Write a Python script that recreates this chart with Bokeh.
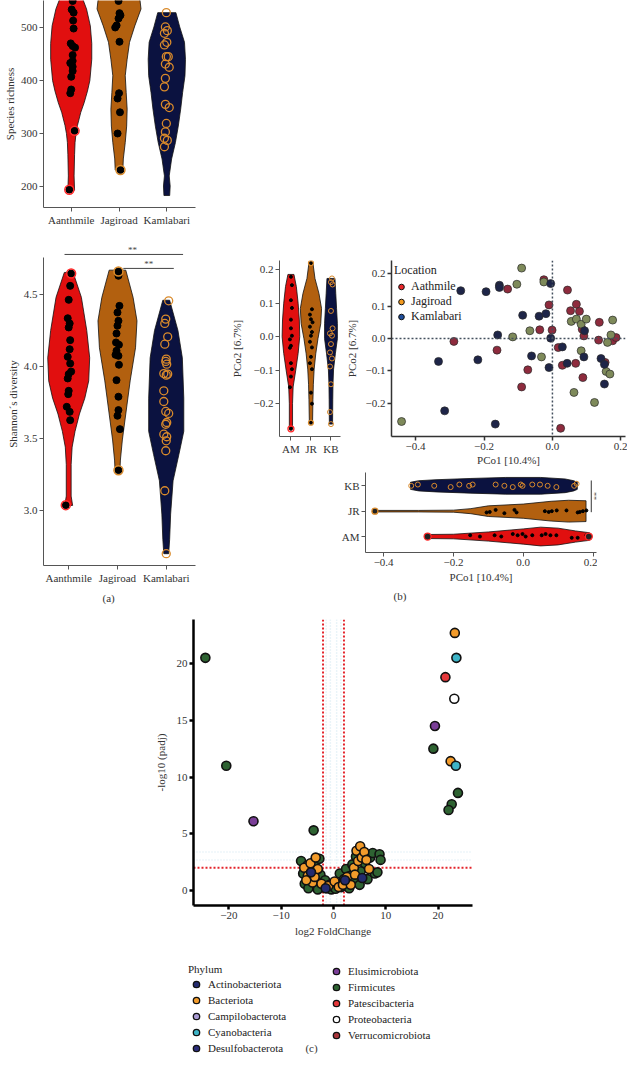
import math
from bokeh.plotting import figure
from bokeh.layouts import row, column
from bokeh.models import Range1d, FixedTicker, Span, Legend, LegendItem, Spacer, Title
from bokeh.embed import file_html
from bokeh.resources import INLINE
from bokeh.core.properties import value

FONT = "Liberation Serif"
TXT = "#333333"
RED = "#E10F0F"
BROWN = "#B2600F"
NAVY = "#0B1240"
RING_OR = "#D98A2B"
RING_RED = "#FF2A2A"
NAN = float("nan")

# ---------------- data ----------------
groups = ["Aanthmile", "Jagiroad", "Kamlabari"]
short_groups = ["AM", "JR", "KB"]

rich_ticks = [200, 300, 400, 500]
shan_ticks = [3.0, 3.5, 4.0, 4.5]
shan_tick_labels = ["3.0", "3.5", "4.0", "4.5"]
pco2_ticks = [-0.2, -0.1, 0.0, 0.1, 0.2]
pco2_tick_labels = ["\u22120.2", "\u22120.1", "0.0", "0.1", "0.2"]
pco1_ticks = [-0.4, -0.2, 0.0, 0.2]
pco1_tick_labels = ["\u22120.4", "\u22120.2", "0.0", "0.2"]
vol_x_ticks = [-20, -10, 0, 10, 20]
vol_x_tick_labels = ["\u221220", "\u221210", "0", "10", "20"]
vol_y_ticks = [0, 5, 10, 15, 20]

# species richness
rich_am = [550, 534, 528, 513, 498, 470, 465, 462, 448, 437, 433, 426, 418, 407, 383, 376, 305, 194]
rich_am_jit = [0.03, 0.01, 0.05, 0.04, 0.05, -0.01, 0.03, 0.08, 0.03, 0.03, -0.02, 0.03, 0.03, 0.0, 0.0, -0.02, 0.07, -0.04]
rich_jr = [565, 550, 527, 523, 517, 504, 500, 473, 376, 366, 340, 300, 231]
rich_jr_jit = [0.0, -0.01, 0.01, 0.03, -0.01, -0.05, -0.08, 0.01, 0.0, -0.03, 0.02, -0.03, 0.03]
rich_kb = [528, 501, 494, 489, 472, 467, 445, 445, 431, 425, 404, 388, 355, 349, 319, 303, 291, 287, 275]
rich_kb_jit = [-0.01, -0.03, 0.01, -0.05, 0.0, -0.05, 0.03, -0.01, -0.03, 0.05, -0.03, -0.05, -0.03, 0.05, -0.01, -0.03, -0.05, 0.01, -0.05]
rich_am_out = [305, 194]
rich_jr_out = [231]

rich_am_lv = [193, 220, 260, 283, 300, 315, 340, 358, 380, 400, 440, 470, 503, 535, 566, 590]
rich_am_w = [0.07, 0.06, 0.07, 0.08, 0.10, 0.13, 0.20, 0.27, 0.34, 0.39, 0.43, 0.43, 0.40, 0.32, 0.19, 0.12]
rich_jr_lv = [231, 252, 283, 314, 346, 377, 409, 440, 472, 503, 535, 566, 590]
rich_jr_w = [0.08, 0.09, 0.13, 0.16, 0.17, 0.15, 0.13, 0.17, 0.22, 0.33, 0.46, 0.42, 0.30]
rich_kb_lv = [183, 201, 220, 252, 283, 314, 346, 377, 409, 440, 472, 501, 528]
rich_kb_w = [0.06, 0.07, 0.05, 0.10, 0.18, 0.24, 0.29, 0.33, 0.38, 0.39, 0.37, 0.27, 0.19]

# Shannon diversity
shan_am = [4.646, 4.560, 4.463, 4.335, 4.299, 4.271, 4.183, 4.120, 4.067, 4.021, 3.965, 3.947, 3.917, 3.831, 3.808, 3.720, 3.685, 3.627, 3.037]
shan_am_jit = [0.05, 0.03, 0.0, -0.02, 0.02, 0.0, 0.03, 0.02, -0.02, 0.03, 0.05, 0.0, -0.02, 0.0, -0.01, -0.04, 0.02, 0.03, -0.06]
shan_jr = [4.660, 4.630, 4.421, 4.375, 4.317, 4.283, 4.229, 4.167, 4.151, 4.109, 4.081, 4.074, 4.012, 3.905, 3.790, 3.697, 3.658, 3.565, 3.280]
shan_jr_jit = [0.02, 0.02, 0.04, 0.0, 0.02, 0.0, -0.02, -0.03, 0.03, -0.02, -0.04, 0.02, 0.03, -0.02, 0.02, 0.02, 0.0, 0.05, 0.02]
shan_kb = [4.456, 4.329, 4.299, 4.206, 4.155, 4.051, 4.035, 4.016, 3.951, 3.947, 3.940, 3.831, 3.757, 3.688, 3.674, 3.611, 3.599, 3.530, 3.512, 3.484, 3.415, 3.137, 2.700]
shan_kb_jit = [0.05, -0.01, -0.03, 0.03, -0.03, 0.0, -0.01, 0.01, -0.05, 0.03, 0.0, -0.05, -0.05, -0.01, 0.05, 0.01, -0.01, -0.05, 0.01, 0.0, -0.01, -0.03, 0.0]
shan_am_out = [4.646, 3.037]
shan_jr_out = [4.660, 3.280]

shan_am_lv = [3.035, 3.10, 3.32, 3.44, 3.55, 3.67, 3.78, 3.90, 4.06, 4.25, 4.48, 4.653]
shan_am_w = [0.08, 0.05, 0.05, 0.07, 0.13, 0.22, 0.33, 0.41, 0.43, 0.37, 0.26, 0.09]
shan_jr_lv = [3.28, 3.35, 3.49, 3.67, 3.90, 4.13, 4.317, 4.48, 4.669]
shan_jr_w = [0.05, 0.06, 0.10, 0.17, 0.26, 0.37, 0.40, 0.32, 0.17]
shan_kb_lv = [2.70, 2.80, 2.975, 3.206, 3.39, 3.55, 3.78, 4.06, 4.25, 4.46]
shan_kb_w = [0.05, 0.07, 0.09, 0.14, 0.26, 0.36, 0.36, 0.33, 0.24, 0.07]

# PCo2 per location
pco2_am = [0.179, 0.154, 0.109, 0.086, 0.051, 0.025, 0.003, -0.008, -0.027, -0.033, -0.079, -0.097, -0.119, -0.151, -0.275]
pco2_am_jit = [0.0, 0.05, 0.0, 0.05, 0.0, 0.0, 0.05, -0.05, 0.0, -0.05, 0.0, 0.05, 0.0, -0.05, 0.0]
pco2_jr = [0.220, 0.082, 0.066, 0.052, 0.043, 0.030, 0.014, 0.003, -0.015, -0.032, -0.060, -0.079, -0.097, -0.167, -0.200, -0.257]
pco2_jr_jit = [0.0, 0.05, -0.05, 0.0, 0.08, -0.05, 0.05, 0.0, -0.05, 0.05, 0.0, -0.05, 0.05, 0.0, 0.05, 0.0]
pco2_kb = [0.174, 0.163, 0.156, 0.077, 0.025, 0.010, 0.003, -0.022, -0.047, -0.065, -0.089, -0.142, -0.225, -0.261]
pco2_kb_jit = [0.05, 0.0, 0.08, 0.0, 0.08, -0.05, 0.05, 0.0, -0.05, 0.05, -0.05, 0.0, -0.05, 0.0]

pco2_am_lv = [-0.275, -0.2, -0.15, -0.1, -0.05, 0.0, 0.05, 0.1, 0.15, 0.186]
pco2_am_w = [0.08, 0.08, 0.11, 0.24, 0.36, 0.44, 0.42, 0.36, 0.27, 0.15]
pco2_jr_lv = [-0.257, -0.187, -0.142, -0.097, -0.051, -0.006, 0.039, 0.084, 0.129, 0.174, 0.22]
pco2_jr_w = [0.08, 0.10, 0.12, 0.16, 0.24, 0.35, 0.49, 0.53, 0.40, 0.20, 0.10]
pco2_kb_lv = [-0.261, -0.187, -0.142, -0.097, -0.051, -0.006, 0.039, 0.084, 0.129, 0.174]
pco2_kb_w = [0.08, 0.09, 0.10, 0.13, 0.22, 0.32, 0.32, 0.28, 0.24, 0.20]

# PCo1 per location
pco1_kb = [-0.321, -0.302, -0.255, -0.208, -0.183, -0.155, -0.145, -0.079, -0.054, -0.030, -0.007, -0.002, 0.026, 0.048, 0.070, 0.095, 0.146, 0.153]
pco1_kb_jit = [0.0, 0.05, 0.0, -0.05, 0.05, 0.0, 0.05, 0.05, 0.0, -0.05, 0.05, 0.0, 0.05, 0.05, 0.0, -0.05, 0.0, 0.08]
pco1_jr = [-0.425, -0.105, -0.096, -0.079, -0.054, -0.025, -0.019, 0.062, 0.073, 0.082, 0.096, 0.124, 0.156, 0.162, 0.171, 0.181]
pco1_jr_jit = [0.0, -0.05, -0.03, 0.05, -0.08, 0.05, -0.05, 0.0, -0.03, 0.0, 0.03, 0.03, -0.05, -0.03, 0.0, 0.03]
pco1_am = [-0.274, -0.152, -0.124, -0.082, -0.063, -0.030, -0.016, -0.002, 0.007, 0.026, 0.053, 0.064, 0.078, 0.095, 0.139, 0.156, 0.181, 0.188]
pco1_am_jit = [0.0, 0.05, 0.0, 0.05, 0.0, 0.1, 0.05, 0.1, 0.0, 0.05, 0.05, 0.1, 0.05, 0.05, -0.05, -0.05, 0.05, 0.0]

pco1_kb_lv = [-0.323, -0.30, -0.25, -0.15, -0.05, 0.05, 0.12, 0.145, 0.155]
pco1_kb_w = [0.14, 0.20, 0.24, 0.29, 0.33, 0.33, 0.27, 0.20, 0.14]
pco1_jr_lv = [-0.425, -0.3, -0.2, -0.15, -0.1, 0.0, 0.08, 0.13, 0.18]
pco1_jr_w = [0.03, 0.03, 0.04, 0.10, 0.21, 0.28, 0.39, 0.43, 0.41]
pco1_am_lv = [-0.274, -0.2, -0.1, 0.0, 0.05, 0.1, 0.15, 0.19]
pco1_am_w = [0.08, 0.09, 0.18, 0.30, 0.37, 0.33, 0.22, 0.15]

# PCoA scatter
pcoa_kb_x = [-0.268, -0.194, -0.155, -0.155, -0.087, -0.160, -0.039, -0.019, -0.005, -0.005, -0.333, -0.218, -0.061, -0.010, 0.029, 0.043, 0.094, 0.092, 0.142, 0.152, 0.152, -0.315, -0.167]
pcoa_kb_y = [0.148, 0.145, 0.165, 0.158, 0.072, 0.011, 0.069, 0.077, 0.170, 0.001, -0.071, -0.066, -0.054, -0.090, -0.026, -0.077, 0.024, -0.057, -0.062, -0.080, -0.141, -0.224, -0.265]
pcoa_am_x = [-0.288, -0.162, -0.131, -0.037, -0.001, -0.010, -0.025, 0.044, 0.053, 0.070, 0.079, 0.087, 0.092, 0.017, 0.029, 0.068, 0.089, -0.090, -0.072, 0.024, 0.137, 0.135, 0.176, 0.186, 0.154]
pcoa_am_y = [-0.009, -0.036, 0.153, 0.027, 0.026, 0.104, 0.182, 0.150, 0.086, 0.106, 0.084, 0.029, 0.008, -0.028, -0.083, -0.077, -0.121, -0.150, -0.097, -0.278, 0.050, -0.005, -0.007, 0.003, -0.074]
pcoa_jr_x = [-0.090, -0.104, -0.025, -0.066, -0.116, -0.032, 0.055, 0.070, 0.084, 0.099, 0.084, 0.063, 0.123, 0.157, 0.168, 0.161, 0.171, 0.176, -0.441]
pcoa_jr_y = [0.218, 0.168, 0.175, 0.024, 0.005, -0.057, 0.053, 0.060, 0.044, 0.060, -0.038, -0.167, -0.198, -0.102, -0.110, -0.012, 0.011, 0.057, -0.257]
location_labels = ["Aathmile", "Jagiroad", "Kamlabari"]
location_colors = ["#E8262A", "#F39A1E", "#1F4E9A"]

# volcano
phyla = ["Actinobacteriota", "Bacteriota", "Campilobacterota", "Cyanobacteria", "Desulfobacterota",
         "Elusimicrobiota", "Firmicutes", "Patescibacteria", "Proteobacteria", "Verrucomicrobiota"]
phyla_colors = ["#232B6E", "#F29B2B", "#A99BD3", "#3DB4C7", "#2B2D78",
                "#7A3E97", "#2E6332", "#E5383B", "#FFFFFF", "#A8353A"]
vol_lfc = [-24.5, -20.5, -15.3, -3.8, 23.2, 23.5, 21.4, 23.1, 19.4, 19.1, 22.4, 23.4, 23.8, 22.6, 22.0,
           -6.2, -5.8, -5.5, -5.0, -4.6, -4.2, -3.8, -3.5, -3.2, -2.7, -2.5, -2.0, -1.6, -1.2, -0.8, -0.4,
           0.0, 0.4, 0.8, 1.2, 1.5, 2.0, 2.4, 2.8, 3.2, 3.6, 4.0, 4.3, 4.8, 5.2, 5.6, 6.0, 6.5, 7.0, 7.5,
           7.9, 8.4, 8.8, 9.0, -4.8, -3.0, 3.0, 5.0,
           -5.6, -4.9, -4.4, -4.0, -3.6, -3.0, -2.3, -1.0, 0.2, 1.0, 1.8, 2.6, 3.3, 3.9, 4.4, 4.7, 5.1,
           5.4, 5.9, 6.3, 6.8, 4.1, -5.2, -3.4,
           -4.3, -1.5, 2.2, 5.5]
vol_nlp = [20.5, 11.0, 6.1, 5.3, 22.7, 20.5, 18.8, 16.9, 14.5, 12.5, 11.4, 11.0, 8.6, 7.6, 7.1,
           2.6, 1.5, 0.6, 2.2, 1.0, 0.4, 1.8, 2.5, 0.8, 2.8, 1.4, 0.3, 0.9, 0.2, 0.5, 0.1,
           0.3, 0.15, 0.6, 1.5, 0.3, 1.0, 1.9, 0.6, 1.3, 2.3, 0.9, 3.0, 3.6, 1.7, 3.2, 2.4, 1.0, 2.9, 3.3,
           1.5, 1.6, 3.2, 2.7, 0.2, 0.1, 0.2, 0.5,
           2.0, 1.3, 2.4, 0.7, 1.2, 1.9, 0.6, 0.4, 0.8, 0.3, 0.5, 1.2, 0.5, 2.0, 3.5, 2.6, 3.9,
           2.9, 3.4, 2.7, 1.9, 1.4, 0.9, 2.9,
           1.6, 0.2, 0.9, 1.1]
vol_phylum = (["Firmicutes", "Firmicutes", "Elusimicrobiota", "Firmicutes", "Bacteriota", "Cyanobacteria",
               "Patescibacteria", "Proteobacteria", "Elusimicrobiota", "Firmicutes", "Bacteriota",
               "Cyanobacteria", "Firmicutes", "Firmicutes", "Firmicutes"]
              + ["Firmicutes"] * 43 + ["Bacteriota"] * 24 + ["Actinobacteriota"] * 4)

# ---------------- helpers ----------------
def style(p, axis_color="#555555", lw=1):
    p.xgrid.visible = False
    p.ygrid.visible = False
    p.outline_line_color = None
    for ax in p.axis:
        ax.major_label_text_font = FONT
        ax.major_label_text_font_size = "11px"
        ax.major_label_text_color = TXT
        ax.axis_label_text_font = FONT
        ax.axis_label_text_font_size = "11px"
        ax.axis_label_text_font_style = "normal"
        ax.axis_label_text_color = TXT
        ax.axis_line_color = axis_color
        ax.axis_line_width = lw
        ax.major_tick_line_color = axis_color
        ax.major_tick_line_width = lw
        ax.minor_tick_line_color = None
        ax.major_tick_out = 4
        ax.major_tick_in = 0
        ax.major_label_standoff = 2
        ax.axis_label_standoff = 2


def violin(p, center, levels, widths, color, horizontal=False):
    lo = [center - w for w in widths]
    hi = [center + w for w in widths]
    a = lo + hi[::-1]
    b = list(levels) + list(levels)[::-1]
    if horizontal:
        p.patch(b, a, fill_color=color, line_color="#111111", line_width=0.8)
    else:
        p.patch(a, b, fill_color=color, line_color="#111111", line_width=0.8)


def fig(w, h, xr, yr, l, r, t, b):
    p = figure(width=w, height=h, x_range=Range1d(*xr), y_range=Range1d(*yr),
               min_border_left=l, min_border_right=r, min_border_top=t, min_border_bottom=b,
               output_backend="svg", toolbar_location=None)
    return p


def bare(p):
    p.axis.visible = False
    p.xgrid.visible = False
    p.ygrid.visible = False
    p.outline_line_color = None


def panel_title(p, text, offset, standoff):
    p.add_layout(Title(text=text, align="left", offset=offset, standoff=standoff,
                       text_font=FONT, text_font_size="11px", text_font_style="normal",
                       text_color=TXT), "below")

# ---------------- (a) top: species richness ----------------
pA1 = fig(227, 237, (-0.58, 2.6), (160.4, 550.9), 36, 32, 0, 30)
violin(pA1, 0, rich_am_lv, rich_am_w, RED)
violin(pA1, 1, rich_jr_lv, rich_jr_w, BROWN)
violin(pA1, 2, rich_kb_lv, rich_kb_w, NAVY)
pA1.scatter([0 + j for j in rich_am_jit], rich_am, size=7, fill_color="black", line_color="black")
pA1.scatter([1 + j for j in rich_jr_jit], rich_jr, size=7, fill_color="black", line_color="black")
pA1.scatter([2 + j for j in rich_kb_jit], rich_kb, size=8, fill_color=None, line_color=RING_OR, line_width=1.3)
pA1.scatter([0 + rich_am_jit[rich_am.index(v)] for v in rich_am_out], rich_am_out, size=9, fill_color=None, line_color=RING_RED, line_width=1.5)
pA1.scatter([1 + rich_jr_jit[rich_jr.index(v)] for v in rich_jr_out], rich_jr_out, size=9, fill_color=None, line_color=RING_OR, line_width=1.5)
style(pA1)
pA1.xaxis.ticker = FixedTicker(ticks=[0, 1, 2])
pA1.xaxis.major_label_overrides = {i: g for i, g in enumerate(groups)}
pA1.yaxis.ticker = FixedTicker(ticks=rich_ticks)
pA1.yaxis.axis_label = "Species richness"

# ---------------- (a) bottom: Shannon ----------------
pA2 = fig(227, 377, (-0.517, 2.6), (2.618, 4.861), 36, 10, 5, 49)
violin(pA2, 0, shan_am_lv, shan_am_w, RED)
violin(pA2, 1, shan_jr_lv, shan_jr_w, BROWN)
violin(pA2, 2, shan_kb_lv, shan_kb_w, NAVY)
pA2.scatter([0 + j for j in shan_am_jit], shan_am, size=7, fill_color="black", line_color="black")
pA2.scatter([1 + j for j in shan_jr_jit], shan_jr, size=7, fill_color="black", line_color="black")
pA2.scatter([2 + j for j in shan_kb_jit], shan_kb, size=8, fill_color=None, line_color=RING_OR, line_width=1.3)
pA2.scatter([0 + shan_am_jit[shan_am.index(v)] for v in shan_am_out], shan_am_out, size=9, fill_color=None, line_color=RING_RED, line_width=1.5)
pA2.scatter([1 + shan_jr_jit[shan_jr.index(v)] for v in shan_jr_out], shan_jr_out, size=9, fill_color=None, line_color=RING_OR, line_width=1.5)
pA2.line([-0.086, 2.345], [4.778, 4.778], line_color="#444444", line_width=1)
pA2.line([1.12, 2.155], [4.681, 4.681], line_color="#444444", line_width=1)
pA2.text([1.31, 1.64], [4.812, 4.715], text=["**", "**"], text_font=value(FONT), text_font_size="9px",
         text_align="center", text_baseline="middle", text_color="#444444")
style(pA2)
pA2.xaxis.ticker = FixedTicker(ticks=[0, 1, 2])
pA2.xaxis.major_label_overrides = {i: g for i, g in enumerate(groups)}
pA2.yaxis.ticker = FixedTicker(ticks=shan_ticks)
pA2.yaxis.major_label_overrides = dict(zip(shan_ticks, shan_tick_labels))
pA2.yaxis.bounds = (2.618, 4.757)
pA2.yaxis.axis_label = "Shannon\u00b4s diversity"
panel_title(pA2, "(a)", 59, 6)

# ---------------- (b) left: PCo2 violins ----------------
pB1 = fig(115, 225, (-0.571, 2.476), (-0.298, 0.2276), 49, 2, 7, 24)
violin(pB1, 0, pco2_am_lv, pco2_am_w, RED)
violin(pB1, 1, pco2_jr_lv, pco2_jr_w, BROWN)
violin(pB1, 2, pco2_kb_lv, pco2_kb_w, NAVY)
pB1.scatter([0 + j for j in pco2_am_jit], pco2_am, size=3, fill_color="black", line_color="black")
pB1.scatter([1 + j for j in pco2_jr_jit], pco2_jr, size=3, fill_color="black", line_color="black")
pB1.scatter([2 + j for j in pco2_kb_jit], pco2_kb, size=5, fill_color=None, line_color=RING_OR, line_width=1)
pB1.scatter([0], [min(pco2_am)], size=6, fill_color=None, line_color=RING_RED, line_width=1.3)
pB1.scatter([1, 1], [min(pco2_jr), max(pco2_jr)], size=5, fill_color=None, line_color=RING_OR, line_width=1.2)
style(pB1)
pB1.xaxis.ticker = FixedTicker(ticks=[0, 1, 2])
pB1.xaxis.major_label_overrides = {i: g for i, g in enumerate(short_groups)}
pB1.yaxis.ticker = FixedTicker(ticks=pco2_ticks)
pB1.yaxis.major_label_overrides = dict(zip(pco2_ticks, pco2_tick_labels))
pB1.yaxis.axis_label = "PCo2 [6.7%]"
pB1.yaxis.axis_label_standoff = 8

# ---------------- (b) right: PCoA scatter ----------------
pB2 = fig(285, 225, (-0.4704, 0.2136), (-0.3034, 0.2415), 47, 2, 13, 36)
pB2.add_layout(Span(location=0, dimension="height", line_color="#44505e", line_width=1.5, line_dash="2 2"))
pB2.add_layout(Span(location=0, dimension="width", line_color="#44505e", line_width=1.5, line_dash="2 2"))
pB2.scatter(pcoa_am_x, pcoa_am_y, size=8, fill_color="#8E2B3D", line_color="#2a2a2a", line_width=0.7)
pB2.scatter(pcoa_jr_x, pcoa_jr_y, size=8, fill_color="#7E8A5A", line_color="#2a2a2a", line_width=0.7)
pB2.scatter(pcoa_kb_x, pcoa_kb_y, size=8, fill_color="#1E2548", line_color="#2a2a2a", line_width=0.7)
leg_rs = [pB2.scatter([NAN], [NAN], size=8, fill_color=c, line_color="#111111", line_width=1)
          for c in location_colors]
leg2 = Legend(items=[LegendItem(label=l, renderers=[r]) for l, r in zip(location_labels, leg_rs)],
              title="Location", location=(3, 112), orientation="vertical",
              glyph_width=14, glyph_height=15, label_height=15, label_standoff=3, spacing=0,
              padding=0, margin=0, border_line_color=None, background_fill_alpha=0,
              label_text_font=FONT, label_text_font_size="12px", label_text_color="#222222",
              title_text_font=FONT, title_text_font_size="12px", title_text_font_style="normal",
              title_text_color="#222222", title_standoff=1)
pB2.add_layout(leg2)
style(pB2, axis_color="#333333", lw=1.5)
pB2.xaxis.ticker = FixedTicker(ticks=pco1_ticks)
pB2.xaxis.major_label_overrides = dict(zip(pco1_ticks, pco1_tick_labels))
pB2.yaxis.ticker = FixedTicker(ticks=pco2_ticks)
pB2.yaxis.major_label_overrides = dict(zip(pco2_ticks, pco2_tick_labels))
pB2.xaxis.axis_label = "PCo1 [10.4%]"
pB2.yaxis.axis_label = "PCo2 [6.7%]"
pB2.yaxis.axis_label_standoff = 5
pB2.xaxis.axis_label_standoff = 1

# ---------------- (b) bottom: PCo1 violins ----------------
pB3 = fig(265, 140, (-0.452, 0.21), (-0.63, 2.525), 33, 1, 0, 60)
violin(pB3, 2, pco1_kb_lv, pco1_kb_w, NAVY, horizontal=True)
violin(pB3, 1, pco1_jr_lv, pco1_jr_w, BROWN, horizontal=True)
violin(pB3, 0, pco1_am_lv, pco1_am_w, RED, horizontal=True)
pB3.scatter(pco1_kb, [2 + j for j in pco1_kb_jit], size=5, fill_color=None, line_color=RING_OR, line_width=1)
pB3.scatter(pco1_jr, [1 + j for j in pco1_jr_jit], size=3, fill_color="black", line_color="black")
pB3.scatter(pco1_am, [0 + j for j in pco1_am_jit], size=3, fill_color="black", line_color="black")
pB3.scatter([min(pco1_jr)], [1], size=6, fill_color="#222222", line_color=RING_OR, line_width=1.3)
pB3.scatter([min(pco1_am), max(pco1_am)], [0, 0], size=7, fill_color="#222222", line_color=RING_RED, line_width=1.3)
pB3.line([0.195, 0.195], [0.96, 2.21], line_color="#333333", line_width=1)
pB3.text([0.2015], [1.6], text=["**"], angle=-math.pi / 2, text_font=value(FONT), text_font_size="8px",
         text_align="center", text_baseline="middle", text_color="#444444")
style(pB3)
pB3.yaxis.ticker = FixedTicker(ticks=[0, 1, 2])
pB3.yaxis.major_label_overrides = {i: g for i, g in enumerate(short_groups)}
pB3.xaxis.ticker = FixedTicker(ticks=pco1_ticks)
pB3.xaxis.major_label_overrides = dict(zip(pco1_ticks, pco1_tick_labels))
pB3.xaxis.axis_label = "PCo1 [10.4%]"
panel_title(pB3, "(b)", 28, 4)

# ---------------- (c) volcano ----------------
pC = fig(627, 328, (-26.77, 26.58), (-1.32, 23.88), 193, 155, 5, 37)
for xv in [-1.4, -0.6, 0.6, 1.4]:
    pC.add_layout(Span(location=xv, dimension="height", line_color="#D5EAF1", line_width=1.5,
                       line_dash="1 2", level="underlay"))
for yv in [2.7, 3.4]:
    pC.add_layout(Span(location=yv, dimension="width", line_color="#DCEDF3", line_width=1.5,
                       line_dash="1 2", level="underlay"))
for xv in [-2, 2]:
    pC.add_layout(Span(location=xv, dimension="height", line_color="#E3242B", line_width=2,
                       line_dash="2 2", level="underlay"))
pC.add_layout(Span(location=2, dimension="width", line_color="#E3242B", line_width=2,
                   line_dash="2 2", level="underlay"))
draw_order = ["Firmicutes", "Bacteriota", "Actinobacteriota", "Campilobacterota", "Cyanobacteria",
              "Desulfobacterota", "Elusimicrobiota", "Patescibacteria", "Proteobacteria", "Verrucomicrobiota"]
for ph in draw_order:
    col = phyla_colors[phyla.index(ph)]
    xs = [x for x, f in zip(vol_lfc, vol_phylum) if f == ph]
    ys = [y for y, f in zip(vol_nlp, vol_phylum) if f == ph]
    pC.scatter(xs, ys, size=9, fill_color=col, line_color="#111111", line_width=1.6)
style(pC, axis_color="#000000", lw=2.5)
pC.xaxis.ticker = FixedTicker(ticks=vol_x_ticks)
pC.xaxis.major_label_overrides = dict(zip(vol_x_ticks, vol_x_tick_labels))
pC.yaxis.ticker = FixedTicker(ticks=vol_y_ticks)
pC.xaxis.axis_label = "log2 FoldChange"
pC.yaxis.axis_label = "-log10 (padj)"
pC.yaxis.axis_label_standoff = 7
pC.xaxis.axis_label_standoff = 3

# legend strip below the volcano: two columns, each a small figure without axes
leg_kw = dict(orientation="vertical", location="top_left",
              glyph_width=16, glyph_height=16, label_height=16, label_standoff=4,
              spacing=0, padding=0, margin=0, border_line_color=None, background_fill_alpha=0,
              label_text_font=FONT, label_text_font_size="11px", label_text_color="#222222")

pL1 = fig(140, 112, (0, 140), (0, 105), 0, 0, 7, 0)
bare(pL1)
rs1 = [pL1.scatter([NAN], [NAN], size=9, fill_color=c, line_color="#111111", line_width=1.3)
       for c in phyla_colors[:5]]
pL1.add_layout(Legend(items=[LegendItem(label=ph, renderers=[r]) for ph, r in zip(phyla[:5], rs1)],
                      title="Phylum", title_text_font=FONT, title_text_font_size="11px",
                      title_text_font_style="normal", title_text_color="#222222", title_standoff=1,
                      **leg_kw))
pL1.text([123], [7], text=["(c)"], text_font=value(FONT), text_font_size="11px",
         text_align="center", text_baseline="middle", text_color=TXT)

pL2 = fig(299, 112, (0, 299), (0, 91), 0, 0, 21, 0)
bare(pL2)
rs2 = [pL2.scatter([NAN], [NAN], size=9, fill_color=c, line_color="#111111", line_width=1.3)
       for c in phyla_colors[5:]]
pL2.add_layout(Legend(items=[LegendItem(label=ph, renderers=[r]) for ph, r in zip(phyla[5:], rs2)],
                      **leg_kw))

# ---------------- layout ----------------
colA = column(pA1, pA2)
colB = column(Spacer(width=400, height=247), row(pB1, pB2),
              row(Spacer(width=105, height=140), pB3))
legend_strip = row(Spacer(width=188, height=112), pL1, pL2)
layout = column(row(colA, colB), pC, legend_strip)

open("out.html", "w").write(file_html(layout, INLINE))
